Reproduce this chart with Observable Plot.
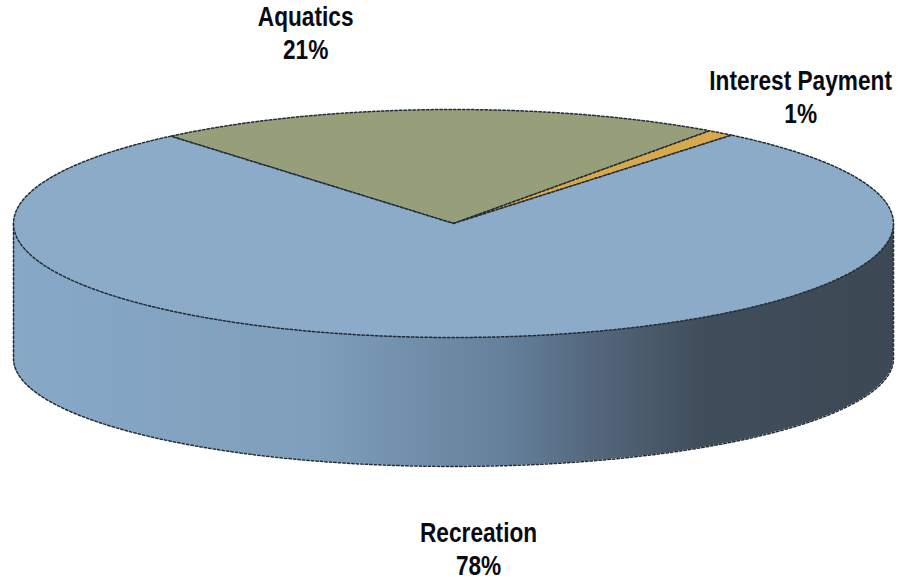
<!DOCTYPE html>
<html>
<head>
<meta charset="utf-8">
<script src="https://cdn.jsdelivr.net/npm/d3@7"></script>
<script src="https://cdn.jsdelivr.net/npm/@observablehq/plot@0.6"></script>
<style>
  html, body { margin: 0; padding: 0; background: #fff; }
  svg { display: block; }
</style>
</head>
<body>
<div id="chart"></div>
<script>
// Budget shares, in clockwise drawing order
const categories = ["Aquatics", "Interest Payment", "Recreation"];
const shares = [21, 1, 78];
const sliceColors = ["#969f79", "#d8a84c", "#8cabc9"];

// Rotation of the first slice, and the disc's depth in ellipse radii
const startDegrees = -40.0;
const wallDrop = 1.184;
const wallFlatten = 0.947;
const edgeColor = "#222d37";

const labelX = [-0.336, 0.789, 0.057];
const labelY = [1.68, 1.118, -2.846];

const wallStops = [
  [0, "#87a8c7"], [0.34, "#7f9fbc"], [0.56, "#65809b"],
  [0.67, "#526579"], [0.78, "#404e5c"], [1, "#3c4853"]
];

const rad = d => d * Math.PI / 180;
const rimPoint = a => [Math.sin(rad(a)), Math.cos(rad(a))];

// Slices of the top face: centre, then the rim arc, back to the centre
let cursor = startDegrees;
const slicePoints = categories.flatMap((name, i) => {
  const from = cursor;
  const to = cursor + shares[i] * 3.6;
  cursor = to;
  const steps = d3.range(0, 1.0001, 1 / Math.max(4, Math.ceil(to - from)));
  const rim = steps.map(t => rimPoint(from + (to - from) * t));
  return [[0, 0], ...rim, [0, 0]].map(([x, y]) => ({name, x, y}));
});

// Visible front wall, from the left extreme to the right extreme of the disc
const wallPoints = d3.range(-90, 90.5, 1).map(a => {
  const s = Math.sin(rad(a));
  const c = Math.cos(rad(a));
  return {x: s, top: -c, bottom: -c * wallFlatten - wallDrop};
});
const wallOutline = [
  {x: -1, y: 0},
  ...wallPoints.map(d => ({x: d.x, y: d.bottom})),
  {x: 1, y: 0}
];

const labels = categories.map((name, i) => ({
  text: `${name}\n${shares[i]}%`,
  x: labelX[i],
  y: labelY[i]
}));

const wallGradient = () => {
  const defs = d3.create("svg:defs");
  const gradient = defs.append("linearGradient")
    .attr("id", "wall-shade")
    .attr("x1", 0).attr("x2", 1).attr("y1", 0).attr("y2", 0);
  wallStops.forEach(([offset, color]) =>
    gradient.append("stop").attr("offset", offset).attr("stop-color", color));
  return defs.node();
};

// Squeezes each label horizontally around its own anchor
const condensed = (index, scales, values, dimensions, context, next) => {
  const g = next(index, scales, values, dimensions, context);
  d3.select(g).selectAll("text").attr("transform", function () {
    return `${this.getAttribute("transform") || ""} scale(0.84,1)`;
  });
  return g;
};

const edge = {stroke: edgeColor, strokeWidth: 1.5, strokeDasharray: "2.5 2"};

const chart = Plot.plot({
  width: 898,
  height: 582,
  margin: 0,
  x: {domain: [-1, 1], range: [13, 893], axis: null},
  y: {domain: [-1, 1], range: [337, 109], axis: null},
  color: {domain: categories, range: sliceColors},
  marks: [
    wallGradient,
    Plot.areaY(wallPoints, {x: "x", y1: "top", y2: "bottom", fill: "url(#wall-shade)"}),
    Plot.line(wallOutline, {x: "x", y: "y", ...edge}),
    Plot.line(slicePoints, {x: "x", y: "y", z: "name", fill: "name", ...edge}),
    Plot.text(labels, {
      x: "x",
      y: "y",
      text: "text",
      fontFamily: "Liberation Sans",
      fontWeight: 700,
      fontSize: 27,
      lineHeight: 1.23,
      fill: "#0a0a12",
      render: condensed
    })
  ]
});

document.getElementById("chart").append(chart);
</script>
</body>
</html>
